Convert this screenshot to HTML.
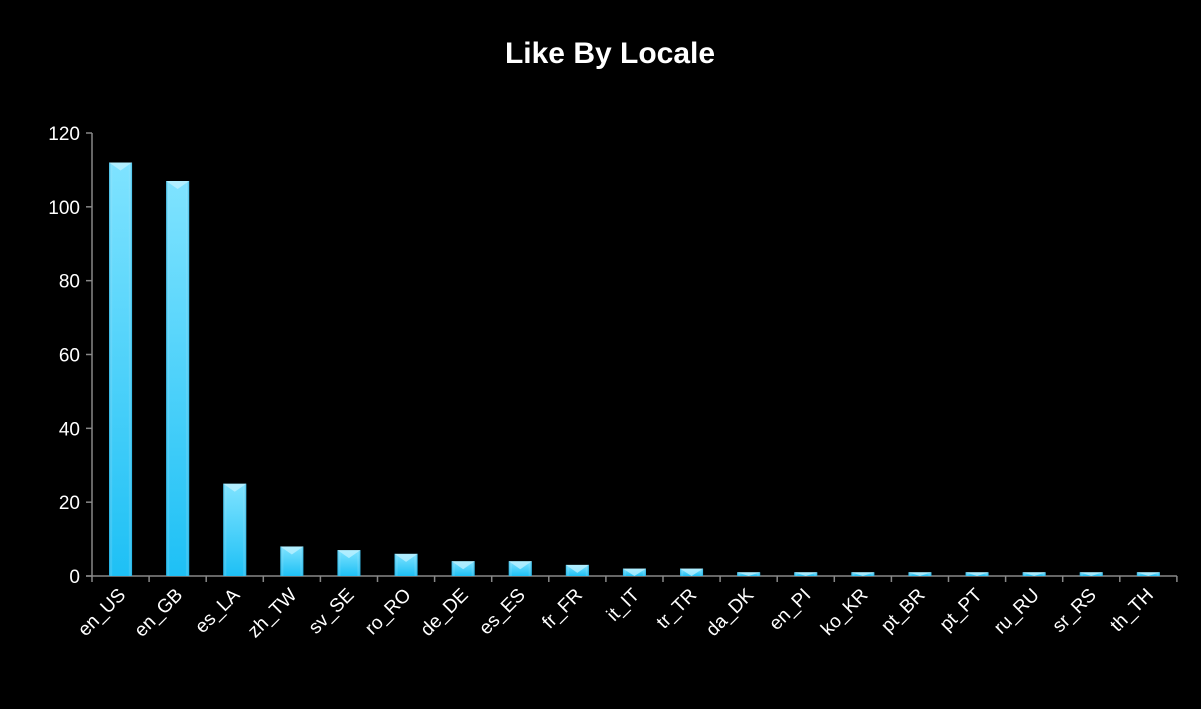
<!DOCTYPE html>
<html><head><meta charset="utf-8"><style>
html,body{margin:0;padding:0;background:#000;}
svg{display:block;font-family:"Liberation Sans",sans-serif;}
</style></head><body>
<svg id="chart" width="1201" height="709" xmlns="http://www.w3.org/2000/svg">
<defs>
<linearGradient id="barG" x1="0" y1="0" x2="0" y2="1">
<stop offset="0" stop-color="#7fe3ff"/><stop offset="1" stop-color="#1ec0f5"/>
</linearGradient>
<linearGradient id="sideG" x1="0" y1="0" x2="1" y2="0">
<stop offset="0" stop-color="#0fa3d8" stop-opacity="0.6"/><stop offset="0.15" stop-color="#fff" stop-opacity="0"/><stop offset="0.85" stop-color="#fff" stop-opacity="0"/><stop offset="1" stop-color="#0fa3d8" stop-opacity="0.6"/>
</linearGradient>
</defs>
<rect x="0" y="0" width="1201" height="709" fill="#000"/>
<text x="610" y="63" fill="#fff" font-size="30" font-weight="bold" text-anchor="middle">Like By Locale</text>
<g id="plot"></g>
</svg>
<script>
const categories=["en_US","en_GB","es_LA","zh_TW","sv_SE","ro_RO","de_DE","es_ES","fr_FR","it_IT","tr_TR","da_DK","en_PI","ko_KR","pt_BR","pt_PT","ru_RU","sr_RS","th_TH"];
const values=[112,107,25,8,7,6,4,4,3,2,2,1,1,1,1,1,1,1,1];
const yTicks=[0,20,40,60,80,100,120];

const NS="http://www.w3.org/2000/svg";
const g=document.getElementById('plot');
const x0=92,y0=576,yTop=133,band=57.1,yMax=120,barW=23;
const yS=v=>y0-(v/yMax)*(y0-yTop);
const xC=i=>x0+band*(i+0.5);
function mk(t,a){const e=document.createElementNS(NS,t);for(const k in a)e.setAttribute(k,a[k]);g.appendChild(e);return e;}

let ax=mk('line',{x1:x0,y1:yTop,x2:x0,y2:y0,stroke:'#888','stroke-width':1.5});


let bx=mk('line',{x1:x0-6,y1:y0,x2:x0+band*categories.length,y2:y0,stroke:'#888','stroke-width':1.5});



yTicks.forEach(v=>{
  const y=yS(v);
  let t=mk('line',{x1:x0-6,y1:y,x2:x0,y2:y,stroke:'#888','stroke-width':1.5});
  
  
  let l=mk('text',{x:x0-12,y:y+7,fill:'#fff','font-size':19,'text-anchor':'end'});
  l.textContent=v;
  
  
});

categories.forEach((c,i)=>{
  let t=mk('line',{x1:x0+band*i,y1:y0,x2:x0+band*i,y2:y0+6,stroke:'#888','stroke-width':1.5});
  
  
  const cx=xC(i),yb=yS(values[i]),h=y0-yb;
  let r=mk('rect',{x:cx-barW/2,y:yb,width:barW,height:h,fill:'url(#barG)'});
  
  
  let s=mk('rect',{x:cx-barW/2,y:yb,width:barW,height:h,fill:'url(#sideG)'});
  
  
  const bev=Math.min(8,h);
  let p=mk('polygon',{points:`${cx-barW/2},${yb} ${cx+barW/2},${yb} ${cx},${yb+bev}`,fill:'#c8f3ff','fill-opacity':0.7});
  
  
  let l=mk('text',{x:cx+6,y:y0+20,fill:'#fff','font-size':19,'text-anchor':'end',transform:`rotate(-45 ${cx+6} ${y0+20})`});
  l.textContent=c;
  
  
});
let lt=mk('line',{x1:x0+band*categories.length,y1:y0,x2:x0+band*categories.length,y2:y0+6,stroke:'#888','stroke-width':1.5});


</script>
</body></html>
